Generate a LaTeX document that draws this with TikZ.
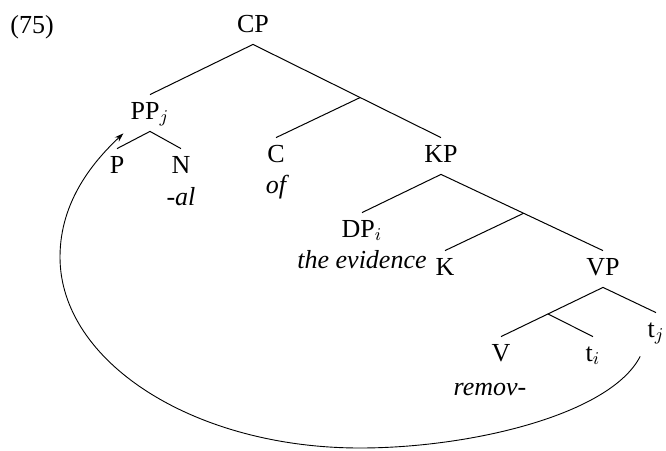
\documentclass[tikz,border=0pt]{standalone}
\usepackage{fontspec}
\setmainfont{Liberation Serif}
\usetikzlibrary{arrows.meta,calc}
\tikzset{
  cat/.style={anchor=base, inner xsep=0pt, inner ysep=0pt,
              text height=12pt, text depth=6pt, font=\fontsize{13}{15}\selectfont},
  gloss/.style={anchor=base, inner sep=0pt, font=\fontsize{13}{15}\selectfont\itshape},
  branch/.style={line width=0.5pt},
  move/.style={-{Stealth[length=4.5pt,width=3pt]}, line width=0.45pt},
}
\begin{document}
\begin{tikzpicture}[x=0.5pt,y=-0.5pt]
  \useasboundingbox (0,0) rectangle (666,451);
  \node[anchor=base west, inner sep=0pt, font=\fontsize{13}{15}\selectfont] (ex) at (10,33) {(75)};
  % categories
  \node[cat] (cp) at (253,32) {CP};
  \node[cat] (pp) at (150,119) {PP$_j$};
  \node[cat] (p) at (117,173) {P};
  \node[cat] (n) at (181,173) {N};
  \node[cat] (c) at (276,162) {C};
  \node[cat] (kp) at (441,162) {KP};
  \node[cat] (dp) at (362,237) {DP$_i$};
  \node[cat] (k) at (445,275) {K};
  \node[cat] (vp) at (603,275) {VP};
  \node[cat] (v) at (501,361) {V};
  \node[cat] (ti) at (593,361) {t$_i$};
  \node[cat] (tj) at (656,337) {t$_j$};
  % words
  \node[gloss] (al) at (181,205) {-al};
  \node[gloss] (of) at (276,193) {of};
  \node[gloss] (ev) at (362,268) {the evidence};
  \node[gloss] (rm) at (490,395) {remov-};
  % bar levels
  \coordinate (cbar) at ($(cp.south)!0.57!(kp.north)$);
  \coordinate (kbar) at ($(kp.south)!0.51!(vp.north)$);
  \coordinate (vbar) at ($(vp.south)!0.54!(v.north)$);
  \draw[branch] (cp.south) -- (pp.north);
  \draw[branch] (cp.south) -- (kp.north);
  \draw[branch] (cbar) -- (c.north);
  \draw[branch] (pp.south) -- (p.north);
  \draw[branch] (pp.south) -- (n.north);
  \draw[branch] (kp.south) -- (dp.north);
  \draw[branch] (kp.south) -- (vp.north);
  \draw[branch] (kbar) -- (k.north);
  \draw[branch] (vp.south) -- (v.north);
  \draw[branch] (vp.south) -- (tj.north);
  \draw[branch] (vbar) -- (ti.north);
  % movement of PP
  \coordinate (tail) at ($(tj.south west)+(-7,7)$);
  \coordinate (head) at ($(pp.south west)+(-7,2)$);
  \draw[move] (tail) .. controls (610,415) and (470,448) .. (360,448)
    .. controls (194,448) and (60,362) .. (60,257)
    .. controls (60,200) and (95,160) .. (head);
\end{tikzpicture}
\end{document}
